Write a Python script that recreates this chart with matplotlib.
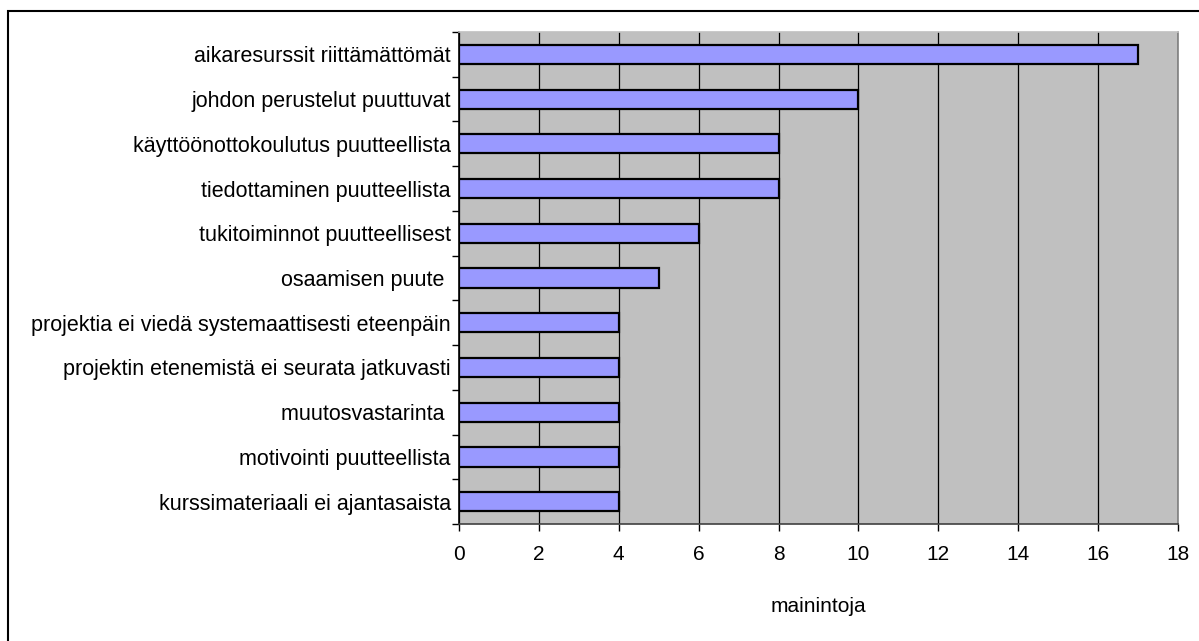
import matplotlib.pyplot as plt
from matplotlib.patches import Rectangle

categories = [
    "aikaresurssit riittämättömät",
    "johdon perustelut puuttuvat",
    "käyttöönottokoulutus puutteellista",
    "tiedottaminen puutteellista",
    "tukitoiminnot puutteellisest",
    "osaamisen puute ",
    "projektia ei viedä systemaattisesti eteenpäin",
    "projektin etenemistä ei seurata jatkuvasti",
    "muutosvastarinta ",
    "motivointi puutteellista",
    "kurssimateriaali ei ajantasaista",
]
mentions = [17, 10, 8, 8, 6, 5, 4, 4, 4, 4, 4]
xticks = [0, 2, 4, 6, 8, 10, 12, 14, 16, 18]

plt.rcParams['font.family'] = ['Liberation Sans', 'DejaVu Sans']

fig = plt.figure(figsize=(11.99, 6.41), dpi=100)
ax = fig.add_axes([0.3828, 0.1825, 0.5997, 0.7675])
ax.set_facecolor('#c0c0c0')

n = len(categories)
ypos = list(range(n))[::-1]
ax.barh(ypos, mentions, height=0.43, color='#9999ff', edgecolor='black',
        linewidth=1.6, zorder=3)

ax.set_xlim(0, 18)
ax.set_ylim(-0.5, n - 0.5)
ax.set_xticks(xticks)
ax.xaxis.grid(True, color='black', linewidth=0.9, zorder=1)
ax.set_axisbelow(True)

# category labels centred on bars, ticks on category boundaries
ax.set_yticks(ypos)
ax.set_yticklabels(categories, fontsize=15.5)
ax.tick_params(axis='y', length=0, pad=6)
ax.set_yticks([i - 0.5 for i in range(n + 1)], minor=True)
ax.tick_params(axis='y', which='minor', length=5, width=1, color='black')
ax.tick_params(axis='x', length=5, width=1, labelsize=15, pad=10)

ax.set_xlabel("mainintoja", fontsize=15, labelpad=24)

ax.spines['left'].set_color('black')
ax.spines['bottom'].set_color('#404040')
ax.spines['right'].set_color('#808080')
ax.spines['top'].set_color('#c0c0c0')
for s in ax.spines.values():
    s.set_linewidth(1.2)

fig.patches.append(Rectangle((8 / 1199, -0.1), 1.2, 1.1 - 11 / 641,
                             transform=fig.transFigure, fill=False,
                             edgecolor='black', linewidth=1.5))

fig.savefig('out.png', dpi=100)
